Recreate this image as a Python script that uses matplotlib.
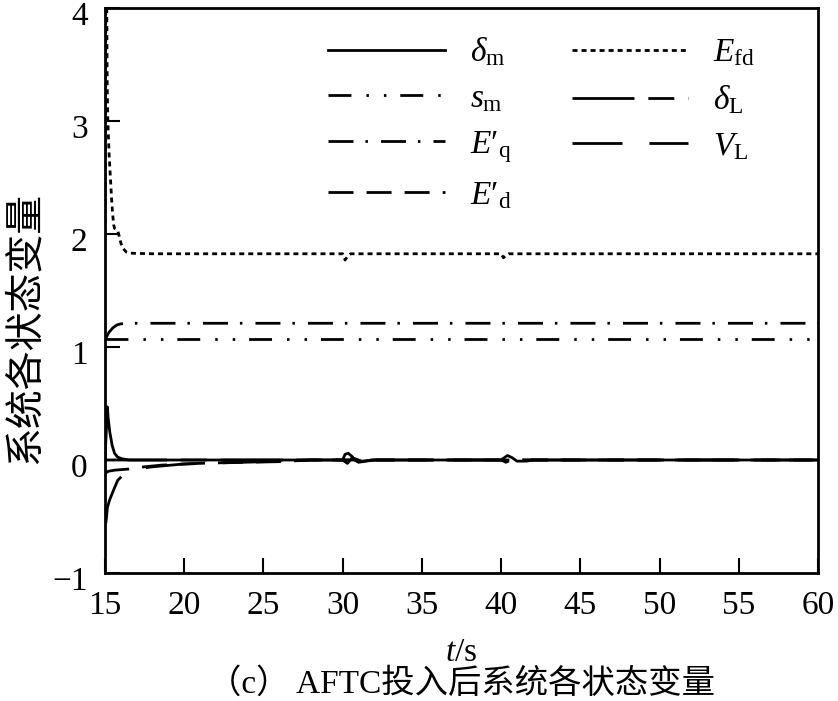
import matplotlib
matplotlib.use('Agg')
import matplotlib.pyplot as plt
import matplotlib.transforms as mtransforms

plt.rcParams['font.family'] = ['Liberation Serif', 'Noto Sans CJK SC']
plt.rcParams['mathtext.fontset'] = 'custom'
plt.rcParams['mathtext.rm'] = 'Liberation Serif'
plt.rcParams['mathtext.it'] = 'Liberation Serif:italic'
plt.rcParams['mathtext.bf'] = 'Liberation Serif:bold'
plt.rcParams['lines.scale_dashes'] = False

# data (time in s, value)
t_dm = [15.0, 15.15, 15.2, 15.3, 15.45, 15.6, 15.8, 16.1, 16.5, 20, 30.0, 30.15, 30.35,
        30.6, 30.75, 31.0, 31.5, 32.0, 40.0, 40.2, 40.4, 40.7, 41.0, 41.6, 42.0, 60]
v_dm = [0.0, 0.47, 0.37, 0.25, 0.13, 0.06, 0.025, 0.01, 0.0, 0.0, 0.0, 0.05, 0.06,
        0.03, 0.0, -0.02, -0.01, 0.0, 0.0, 0.02, 0.04, 0.02, -0.01, -0.01, 0.0, 0.0]

t_sm = [15.0, 15.5, 30, 45, 60]
v_sm = [1.07, 1.07, 1.07, 1.07, 1.07]

t_eq = [15.0, 15.1, 15.25, 15.5, 15.75, 16.0, 16.5, 30, 45, 60]
v_eq = [1.07, 1.09, 1.13, 1.17, 1.195, 1.205, 1.21, 1.21, 1.21, 1.21]

t_ed = [15.0, 15.2, 15.6, 16.5, 17.5, 18.6, 20.9, 23.0, 25.9, 28.0, 40, 60]
v_ed = [-0.12, -0.1, -0.09, -0.08, -0.06, -0.045, -0.03, -0.022, -0.015, 0.0, 0.0, 0.0]

t_efd = [15.0, 15.04, 15.06, 15.1, 15.14, 15.18, 15.22, 15.26, 15.3, 15.34, 15.38, 15.42,
         15.46, 15.5, 15.55, 15.6, 15.7, 15.8, 15.9, 16.0, 16.15, 16.35, 16.6, 18, 25,
         30.0, 30.15, 30.3, 30.5, 35, 40.0, 40.15, 40.3, 40.5, 50, 60]
v_efd = [2.02, 3.5, 4.5, 4.3, 3.3, 3.0, 2.85, 2.7, 2.6, 2.5, 2.4, 2.3,
         2.22, 2.15, 2.08, 2.05, 2.04, 2.03, 1.98, 1.92, 1.87, 1.84, 1.83, 1.825, 1.825,
         1.825, 1.77, 1.8, 1.825, 1.825, 1.825, 1.79, 1.81, 1.825, 1.825, 1.825]

t_dl = [15.0, 20, 30.0, 30.3, 30.6, 31.2, 32.0, 40.0, 40.3, 40.8, 41.5, 60]
v_dl = [0.0, 0.0, 0.0, -0.03, 0.02, -0.01, 0.0, 0.0, -0.02, 0.01, 0.0, 0.0]

t_vl = [15.05, 15.1, 15.15, 15.3, 15.5, 15.8, 16.3, 17.0, 18.0, 20.0, 25.0, 28.0, 40, 60]
v_vl = [-0.56, -0.5, -0.42, -0.35, -0.28, -0.18, -0.11, -0.08, -0.06, -0.035, -0.015, 0.0, 0.0, 0.0]

labels = [r'$\delta_{\rm m}$', r'$s_{\rm m}$', '$E\u2032_{\\rm q}$', '$E\u2032_{\\rm d}$',
          r'$E_{\rm fd}$', r'$\delta_{\rm L}$', r'$V_{\rm L}$']

fig = plt.figure(figsize=(8.38, 7.01), dpi=100)
ax = fig.add_axes([105/838, 1 - 573/701, 713/838, 565/701])

lw = 2.0
ax.plot(t_dm, v_dm, color='k', lw=lw, ls='-', label=labels[0])
ax.plot(t_sm, v_sm, color='k', lw=lw, dashes=[16.5, 10.8, 1.8, 10.8, 1.8, 10], label=labels[1])
ax.plot(t_eq, v_eq, color='k', lw=lw, dashes=[18, 8.6, 1.8, 9.4], label=labels[2])
ax.plot(t_ed, v_ed, color='k', lw=lw, dashes=[18, 9.4], label=labels[3])
ax.plot(t_efd, v_efd, color='k', lw=lw, dashes=[3.6, 2.9], label=labels[4])
ax.plot(t_dl, v_dl, color='k', lw=lw, dashes=[44.6, 10, 18.7, 10], label=labels[5])
ax.plot(t_vl, v_vl, color='k', lw=lw, dashes=[36, 19.4], label=labels[6])

ax.set_xlim(15, 60)
ax.set_ylim(-1, 4)
ax.set_xticks(range(15, 61, 5))
ax.set_yticks(range(-1, 5))
ax.set_yticklabels(['\u22121', '0', '1', '2', '3', '4'])
ax.tick_params(direction='in', length=11, width=1.5, labelsize=24, pad=12.5,
               top=False, right=False)
# the y labels sit a little low in the original
shift = mtransforms.ScaledTranslation(0, -5/100, fig.dpi_scale_trans)
for lab in ax.get_yticklabels():
    lab.set_transform(lab.get_transform() + shift)
for sp in ax.spines.values():
    sp.set_linewidth(2)

ax.legend(ncol=2, loc='upper right', bbox_to_anchor=(0.954, 1.004), frameon=False,
          fontsize=24, handlelength=3.5, handletextpad=0.75, columnspacing=1.8,
          labelspacing=0.45)

fig.text(25/838, 1 - 328/701, '系统各状态变量', rotation=90, ha='center', va='center',
         fontsize=28, family=['Noto Sans CJK SC'])
fig.text(461/838, 1 - 653/701, r'$t$/s', ha='center', va='center', fontsize=24)
fig.text(461/838, 1 - 684/701, '（c） AFTC投入后系统各状态变量', ha='center', va='center',
         fontsize=24)

fig.savefig('out.png', dpi=100)
